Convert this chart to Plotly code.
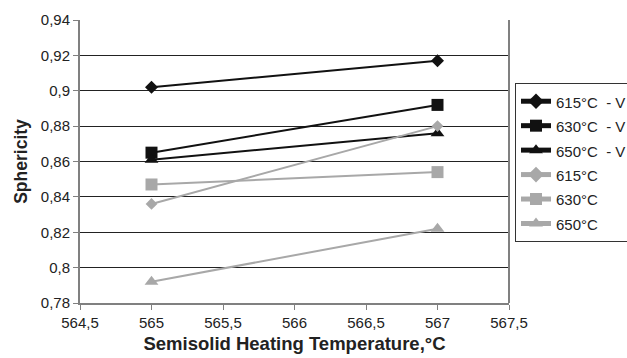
import plotly.graph_objects as go

temps = [565, 567]
series_names = ["615°C  - V", "630°C  - V", "650°C  - V", "615°C", "630°C", "650°C"]
v615 = [0.902, 0.917]
v630 = [0.865, 0.892]
v650 = [0.861, 0.876]
g615 = [0.836, 0.880]
g630 = [0.847, 0.854]
g650 = [0.792, 0.822]
values = [v615, v630, v650, g615, g630, g650]
x_ticks = [564.5, 565, 565.5, 566, 566.5, 567, 567.5]
x_ticklabels = ["564,5", "565", "565,5", "566", "566,5", "567", "567,5"]
y_ticks = [0.78, 0.80, 0.82, 0.84, 0.86, 0.88, 0.90, 0.92, 0.94]
y_ticklabels = ["0,78", "0,8", "0,82", "0,84", "0,86", "0,88", "0,9", "0,92", "0,94"]

BLACK = "#111111"
GRAY = "#a8a8a8"
colors = [BLACK, BLACK, BLACK, GRAY, GRAY, GRAY]
symbols = ["diamond", "square", "triangle-up", "diamond", "square", "triangle-up"]
sizes = [10, 12, 12, 9, 12, 12]

fig = go.Figure()
for name, vals, c, s, sz in zip(series_names, values, colors, symbols, sizes):
    fig.add_trace(go.Scatter(
        x=temps, y=vals,
        name='<span style="font-size:15px">' + name.replace("  ", "&nbsp; ") + "</span>",
        mode="lines+markers",
        line=dict(color=c, width=2),
        marker=dict(symbol=s, size=sz, color=c, line=dict(width=0)),
    ))

font = "Liberation Sans, Arial, sans-serif"
W, H = 627, 358
L, R, T, B = 80, 0, 20, 55
plot_right = 509
dom_end = (plot_right - L) / (W - L - R)
leg_x = (515 - L) / (W - L - R)

fig.update_layout(
    width=W, height=H,
    margin=dict(l=L, r=R, t=T, b=B, autoexpand=False),
    paper_bgcolor="white", plot_bgcolor="white",
    font=dict(family=font, size=15, color="#222222"),
    showlegend=True,
    legend=dict(
        x=leg_x, y=(H - B - 83) / (H - T - B), xanchor="left", yanchor="top",
        bordercolor="#333333", borderwidth=1, bgcolor="white",
        font=dict(size=16.5, color="#222222"),
        itemsizing="constant", tracegroupgap=0,
    ),
    xaxis=dict(
        domain=[0, dom_end],
        range=[564.5, 567.5], tickvals=x_ticks, ticktext=x_ticklabels,
        showgrid=False, zeroline=False,
        showline=True, linecolor="#808080", linewidth=2, mirror=False,
        ticks="outside", ticklen=5, tickcolor="#808080", tickwidth=1,
        tickfont=dict(size=15),
        title=dict(text="<b>Semisolid Heating Temperature,°C</b>", font=dict(size=18.5, color="#222222"), standoff=7),
    ),
    yaxis=dict(
        range=[0.78, 0.94], tickvals=y_ticks, ticktext=y_ticklabels,
        showgrid=True, gridcolor="#222222", gridwidth=1, zeroline=False,
        showline=True, linecolor="#808080", linewidth=2,
        ticks="outside", ticklen=5, tickcolor="#808080", tickwidth=1,
        tickfont=dict(size=15),
        title=dict(text="<b>Sphericity</b>", font=dict(size=17.5, color="#222222"), standoff=9),
    ),
    shapes=[dict(type="line", xref="x domain", yref="y domain", x0=1, x1=1, y0=0, y1=1,
                 line=dict(color="#808080", width=2))],
)
fig.write_html("out.html")
